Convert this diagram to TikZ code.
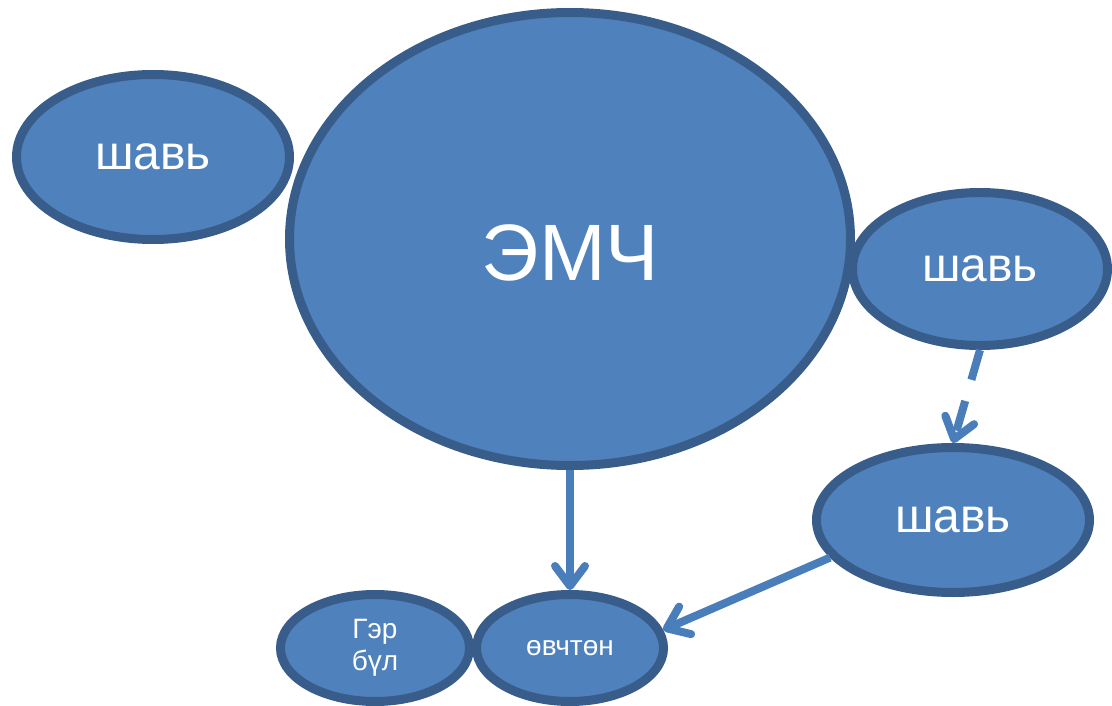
\documentclass[tikz,border=0pt]{standalone}
\usepackage{fontspec}
\setmainfont{Liberation Sans}
\usetikzlibrary{shapes.geometric,arrows.meta}
\definecolor{bubblefill}{HTML}{4F81BD}
\definecolor{bubbleline}{HTML}{385D8A}
\definecolor{linkline}{HTML}{4A7EBB}
\begin{document}
\begin{tikzpicture}
        [x=1pt,y=-1pt,
        bubbledecorate/.style={shape=ellipse,inner sep=0pt,draw=bubbleline,fill=bubblefill,line width=9pt,text=white,align=center},%
        linkdecorate/.style={-{Straight Barb[length=20pt,width=30pt,round]},draw=linkline,line width=8pt},%
        dashlink/.style={dash pattern=on 31pt off 22pt},%
        lowtext/.style={text height=82pt,text depth=0pt},%
        plaintext/.style={}]
        \useasboundingbox (0,0) rectangle (1112,706);
        %% bubbles

        \foreach \nodename/\x/\y/\w/\h/\fs/\textpos/\txt in { shavA/153/157/273/165/48/plaintext/шавь,
          emch/570/239/561/453/80/lowtext/ЭМЧ, shavB/980/269/255/153/48/plaintext/шавь,
          shavC/953/520/273/145/48/plaintext/шавь, gerbul/375/648/189/107/28/plaintext/{Гэр\\бүл},
          ovchton/570/648/187/107/28/plaintext/өвчтөн}
        {
          \node (\nodename) at (\x,\y) [bubbledecorate,minimum width=\w pt,minimum height=\h pt,
            font=\fontsize{\fs}{32}\selectfont,\textpos] {\txt};
        }
        %% arrows
        \path
        \foreach \startnode/\endnode/\linestyle in {emch/ovchton/solid, shavB.south/shavC.north/dashlink, shavC.197/ovchton.11/solid}
        {
          (\startnode) edge[linkdecorate,\linestyle] (\endnode)
        };
      \end{tikzpicture}
\end{document}
